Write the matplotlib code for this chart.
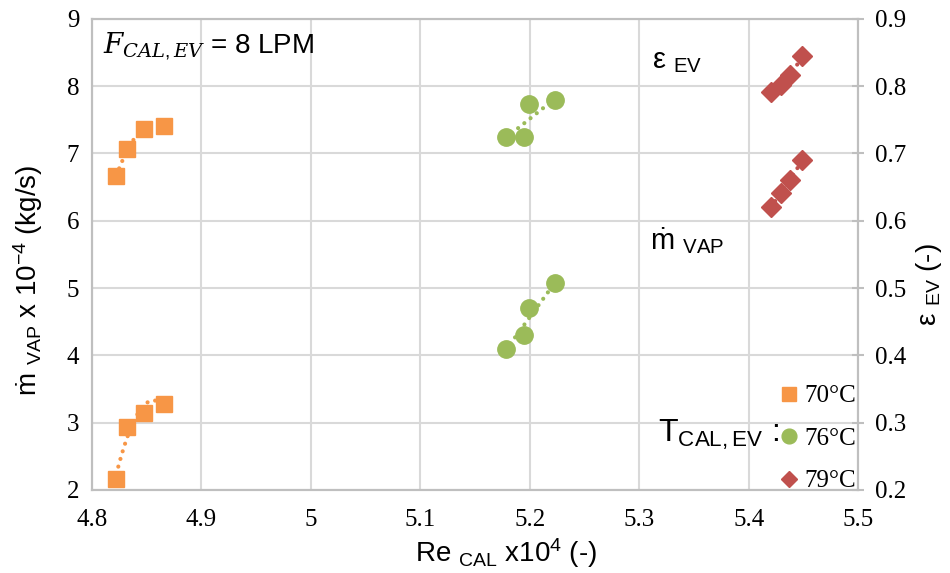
import numpy as np
import matplotlib
matplotlib.use("Agg")
import matplotlib.pyplot as plt
from matplotlib.lines import Line2D

plt.rcParams['font.family'] = ['Liberation Sans', 'DejaVu Sans']
plt.rcParams['mathtext.fontset'] = 'custom'
plt.rcParams['mathtext.rm'] = 'Liberation Sans'
plt.rcParams['mathtext.it'] = 'DejaVu Serif:italic'

# Data (Re_CAL x10^4)
re_70 = [4.8225, 4.8324, 4.8480, 4.8657]
mvap_70 = [2.16, 2.93, 3.15, 3.28]
eps_70 = [0.666, 0.706, 0.737, 0.741]

re_76 = [5.1780, 5.1950, 5.1997, 5.2234]
mvap_76 = [4.10, 4.30, 4.70, 5.08]
eps_76 = [0.724, 0.725, 0.773, 0.779]

re_79 = [5.4200, 5.4295, 5.4380, 5.4490]
mvap_79 = [6.21, 6.41, 6.61, 6.91]
eps_79 = [0.792, 0.802, 0.816, 0.845]

labels = ['70°C', '76°C', '79°C']
colors = ['#F79646', '#9BBB59', '#C0504D']
markers = ['s', 'o', 'D']
msizes = [12, 12.5, 10]
fit_deg = [2, 1, 1]

fig = plt.figure(figsize=(9.5, 5.73), dpi=100)
ax = fig.add_axes([0.0965, 0.145, 0.807, 0.822])
ax2 = ax.twinx()

ax.set_xlim(4.8, 5.5)
ax.set_ylim(2, 9)
ax2.set_ylim(0.2, 0.9)

grid_c = '#D9D9D9'
ax.set_xticks(np.arange(4.8, 5.51, 0.1))
ax.set_xticklabels(['4.8', '4.9', '5', '5.1', '5.2', '5.3', '5.4', '5.5'])
ax.set_yticks(range(2, 10))
ax2.set_yticks(np.arange(0.2, 0.91, 0.1))
ax2.set_yticklabels(['0.2', '0.3', '0.4', '0.5', '0.6', '0.7', '0.8', '0.9'])
ax.grid(True, color=grid_c, linewidth=1.5)
ax.set_axisbelow(True)
for a in (ax, ax2):
    for s in a.spines.values():
        s.set_color('#BFBFBF')
        s.set_linewidth(1.5)
ax.tick_params(axis='x', length=0, pad=14, labelsize=18)
ax.tick_params(axis='y', length=0, pad=9, labelsize=18)
ax2.tick_params(axis='y', length=8, direction='inout', color='#BFBFBF', width=1.5, pad=8, labelsize=18)
for lab in ax.get_xticklabels() + ax.get_yticklabels() + ax2.get_yticklabels():
    lab.set_family(['Liberation Serif', 'DejaVu Serif'])

series = [(re_70, mvap_70, eps_70), (re_76, mvap_76, eps_76), (re_79, mvap_79, eps_79)]
for (x, m, e), c, mk, ms, dg in zip(series, colors, markers, msizes, fit_deg):
    x = np.array(x)
    for yv, a in ((np.array(m), ax), (np.array(e), ax2)):
        p = np.polyfit(x, yv, dg)
        xs = np.linspace(x.min(), x.max(), 50)
        a.plot(xs, np.polyval(p, xs), linestyle=(0, (0.01, 1.9)), color=c, linewidth=3,
               dash_capstyle='round', zorder=2)
        a.plot(x, yv, linestyle='none', marker=mk, color=c, markersize=ms, zorder=3)

ax.set_xlabel(r'Re $_{\mathrm{CAL}}$ x10$^{4}$ (-)', fontsize=20)
ax.xaxis.set_label_coords(0.540, -0.134)
ax.xaxis.label.set_va('center')
ax.set_ylabel(r'ṁ $_{\mathrm{VAP}}$ x 10$^{-4}$ (kg/s)', fontsize=20)
ax.yaxis.set_label_coords(-0.083, 0.446)
ax.yaxis.label.set_va('center')
ax2.set_ylabel(r'ε $_{\mathrm{EV}}$ (-)', fontsize=20)
ax2.yaxis.set_label_coords(1.0925, 0.435)
ax2.yaxis.label.set_va('center')

ax.text(4.81, 8.6, r'$F_{CAL,EV}$ = 8 LPM', fontsize=20, va='center', ha='left')
ax.text(5.312, 8.38, r'ε $_{\mathrm{EV}}$', fontsize=21, va='center', ha='left')
ax.text(5.31, 5.70, r'ṁ $_{\mathrm{VAP}}$', fontsize=21, va='center', ha='left')

handles = [Line2D([], [], linestyle='none', marker=mk, color=c, markersize=ms * 0.85)
           for c, mk, ms in zip(colors, markers, msizes)]
leg = ax.legend(handles, labels, loc='lower right', frameon=False,
                handlelength=0.6, handletextpad=0.3, labelspacing=0.8,
                borderpad=0, borderaxespad=0, bbox_to_anchor=(0.997, -0.005),
                prop={'family': ['Liberation Serif', 'DejaVu Serif'], 'size': 18})
ax.text(5.428, 2.82, r'T$_{\mathrm{CAL,EV}}$ :', fontsize=23, va='center', ha='right')

fig.savefig('out.png', dpi=100)
